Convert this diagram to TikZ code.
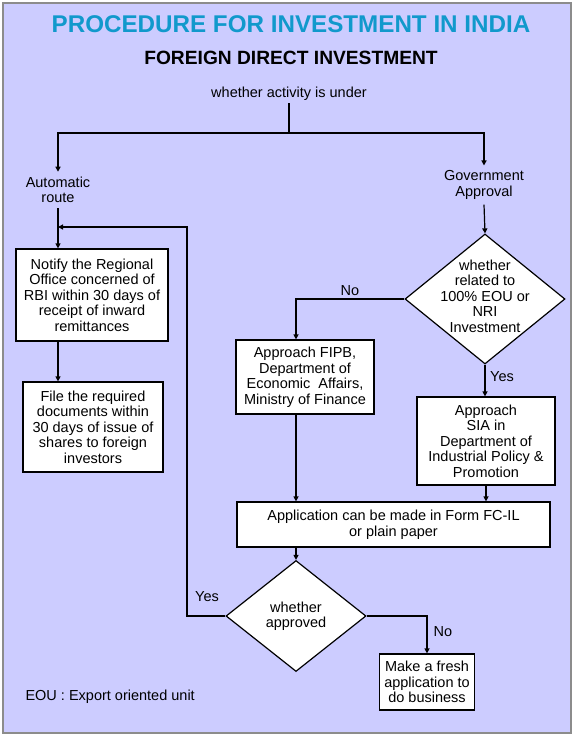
\documentclass[tikz,border=0pt]{standalone}
\usepackage{fontspec}
\setmainfont{Liberation Sans}
\usepackage{tikz}
\usetikzlibrary{shapes.geometric, arrows.meta}

\definecolor{lavender}{HTML}{CCCCFF}
\definecolor{titleblue}{HTML}{1199CC}
\definecolor{framegray}{HTML}{8C8C8C}

\begin{document}
\begin{tikzpicture}[x=1pt, y=-1pt, >={Triangle[length=5pt, width=5pt]},
    every node/.style={font=\fontsize{14.5}{15.5}\selectfont, align=center},
    box/.style={draw, fill=white, line width=1.2pt, inner sep=0pt},
    decision/.style={diamond, draw, fill=white, line width=1.2pt, inner sep=0pt},
    route/.style={inner sep=5pt},
    flow/.style={->, line width=1.2pt}]
    \useasboundingbox (0, 0) rectangle (576, 742);
    \fill[lavender] (3, 3) rectangle (571, 733);
    \draw[framegray, line width=1.5pt] (3, 3) rectangle (571, 733);

    \node[text=titleblue, font=\fontsize{24.2}{28}\selectfont\bfseries] (title) at (291, 24) {PROCEDURE FOR INVESTMENT IN INDIA};
    \node[font=\fontsize{19.2}{22}\selectfont\bfseries] (fdi) at (291, 57.5) {FOREIGN DIRECT INVESTMENT};
    \node[anchor=base, inner sep=3pt] (under) at (289, 97) {whether activity is under};

    \coordinate (split) at (289, 133);
    \node[route] (auto) at (58, 190) {Automatic\\route};
    \node[route] (gov) at (484, 185) {Government\\Approval};
    \draw[line width=1.2pt] (under.south) -- (split);
    \draw[flow] (split) -| (auto.north);
    \draw[flow] (split) -| (gov.north);

    % automatic route
    \node[box, minimum width=152pt, minimum height=92pt] (notify) at (92, 295) {Notify the Regional\\Office concerned of\\RBI within 30 days of\\receipt of inward\\remittances};
    \node[box, minimum width=140pt, minimum height=90pt] (file) at (93, 427) {File the required\\documents within\\30 days of issue of\\shares to foreign\\investors};
    \draw[flow] (auto.south) -- (auto.south |- notify.north);
    \draw[flow] (auto |- notify.south) -- (auto |- file.north);

    % government approval
    \node[decision, minimum width=160pt, minimum height=130pt] (eou) at (485, 299) {};
    \node (eoutxt) at (485, 296) {whether\\related to\\100\% EOU or\\NRI\\Investment};
    \draw[flow] (gov.south) -- (eou.north);

    \node[box, minimum width=138pt, minimum height=74pt] (fipb) at (305, 377) {Approach FIPB,\\Department of\\Economic\ \ Affairs,\\Ministry of Finance};
    \node[box, minimum width=138pt, minimum height=88pt] (sia) at (486, 441) {Approach\\SIA in\\Department of\\Industrial Policy \&\\Promotion};
    \draw[flow] (eou.west) -| ([xshift=-9pt]fipb.north);
    \draw[flow] (eou.south) -- (eou.south |- sia.north);
    \node (no1) at (350, 291) {No};
    \node (yes1) at (502, 377) {Yes};

    \node[box, minimum width=313pt, minimum height=45pt] (app) at (393.5, 524.5) {Application can be made in Form FC-IL\\or plain paper};
    \draw[flow] ([xshift=-9pt]fipb.south) -- ([xshift=-9pt]fipb.south |- app.north);
    \draw[flow] (sia.south) -- (sia.south |- app.north);

    \node[decision, minimum width=140pt, minimum height=111pt] (appr) at (296, 616) {};
    \node (apprtxt) at (296, 616) {whether\\approved};
    \draw[flow] (appr.north |- app.south) -- (appr.north);

    \coordinate (back) at (187, 227);
    \draw[flow] (appr.west) -| (back) -- (auto |- back);
    \node (yes2) at (207, 597) {Yes};

    \node[box, minimum width=95pt, minimum height=56pt] (fresh) at (427, 682) {Make a fresh\\application to\\do business};
    \draw[flow] (appr.east) -| (fresh.north);
    \node (no2) at (443, 632) {No};

    \node[anchor=west] (note) at (22, 697) {EOU~:~Export oriented unit};
\end{tikzpicture}
\end{document}
